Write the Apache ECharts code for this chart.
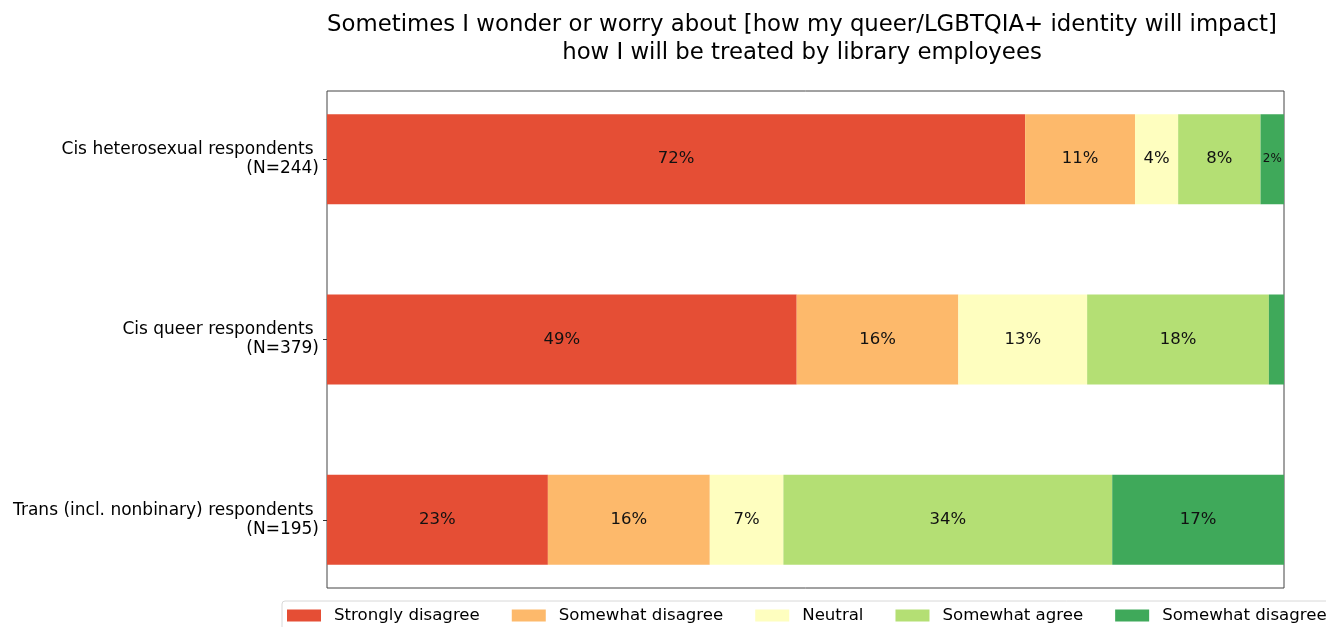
<!DOCTYPE html>
<html>
<head>
<meta charset="utf-8">
<script src="https://cdn.jsdelivr.net/npm/echarts@6/dist/echarts.min.js"></script>
<style>
  html, body { margin: 0; padding: 0; background: #fff; }
  #chart { width: 1326px; height: 627px; }
</style>
</head>
<body>
<div id="chart"></div>
<script>
// Respondent groups (top to bottom)
const groups = [
  'Cis heterosexual respondents \n(N=244)',
  'Cis queer respondents \n(N=379)',
  'Trans (incl. nonbinary) respondents \n(N=195)'
];

// Response categories, as labelled in the legend
const responses = [
  'Strongly disagree',
  'Somewhat disagree',
  'Neutral',
  'Somewhat agree',
  'Somewhat disagree '
];

// Share of each group (%) per response
const stronglyDisagree = [72.95, 49.08, 23.08];
const somewhatDisagree = [11.48, 16.89, 16.92];
const neutral          = [4.51, 13.46, 7.69];
const somewhatAgree    = [8.61, 18.99, 34.36];
const lastResponse     = [2.46, 1.58, 17.95];

const colors = ['#e54e35', '#fdb96b', '#fefebf', '#b4df74', '#3fa95a'];
const font = 'DejaVu Sans';

const seriesValues = [stronglyDisagree, somewhatDisagree, neutral, somewhatAgree, lastResponse];

const series = seriesValues.map((vals, i) => ({
  name: responses[i],
  type: 'bar',
  stack: 'total',
  xAxisIndex: 1,
  yAxisIndex: 1,
  barWidth: 90,
  data: vals,
  itemStyle: { color: colors[i] },
  label: {
    show: true,
    position: 'inside',
    color: '#111',
    fontFamily: font,
    fontSize: 16.5,
    formatter: p => {
      const v = p.value;
      if (v < 2) return '';
      const txt = Math.floor(v) + '%';
      return v < 3 ? '{s|' + txt + '}' : txt;
    },
    rich: { s: { fontSize: 12, fontFamily: font, color: '#111' } }
  },
  emphasis: { disabled: true }
}));

const chart = echarts.init(document.getElementById('chart'), null, { renderer: 'canvas' });
chart.setOption({
  animation: false,
  backgroundColor: '#fff',
  title: {
    text: 'Sometimes I wonder or worry about [how my queer/LGBTQIA+ identity will impact]\nhow I will be treated by library employees',
    left: 797,
    top: 6,
    textAlign: 'center',
    textStyle: {
      fontFamily: font,
      fontSize: 22.8,
      fontWeight: 'normal',
      lineHeight: 28,
      color: '#000'
    }
  },
  legend: {
    data: responses,
    left: 282,
    top: 601,
    width: 1200,
    orient: 'horizontal',
    itemWidth: 34,
    itemHeight: 12,
    itemGap: 32,
    padding: [6, 6, 6, 5],
    borderColor: '#d8d8d8',
    borderWidth: 1,
    borderRadius: 3,
    icon: 'rect',
    selectedMode: false,
    textStyle: { fontFamily: font, fontSize: 16.6, color: '#000', padding: [0, 0, 0, 8] }
  },
  grid: [
    // plot frame
    { left: 327, top: 91, width: 957, height: 497, show: true, borderColor: '#444', borderWidth: 1, backgroundColor: 'transparent' },
    // bar area
    { left: 327, top: 69, width: 957, height: 541 }
  ],
  xAxis: [
    { gridIndex: 0, type: 'value', show: false, min: 0, max: 100 },
    { gridIndex: 1, type: 'value', show: false, min: 0, max: 100 }
  ],
  yAxis: [
    { gridIndex: 0, type: 'value', show: false },
    {
      gridIndex: 1,
      type: 'category',
      data: groups,
      inverse: true,
      axisLine: { show: false },
      axisTick: { show: true, alignWithLabel: true, length: 4, lineStyle: { color: '#333' } },
      axisLabel: {
        fontFamily: font,
        fontSize: 17,
        color: '#000',
        lineHeight: 19,
        align: 'right',
        margin: 8,
        padding: [12, 0, 0, 0]
      }
    }
  ],
  series: series
});
</script>
</body>
</html>
